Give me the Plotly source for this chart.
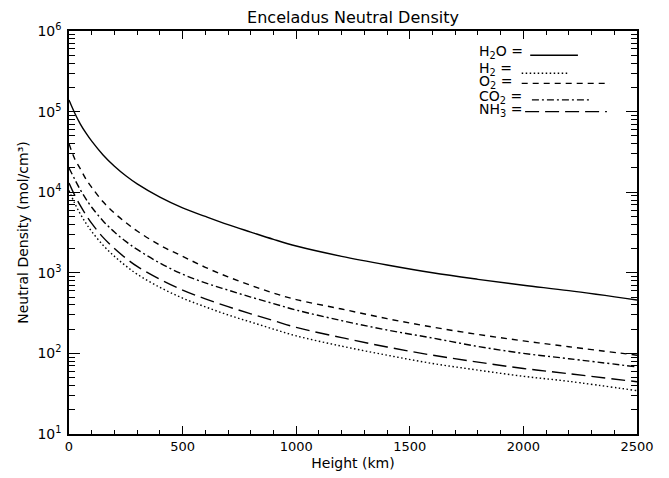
import plotly.graph_objects as go

# Heights (km)
height_km = [0, 25, 50, 75, 100, 150, 200, 250, 300, 400, 500, 600, 700, 800,
             900, 1000, 1200, 1400, 1600, 1800, 2000, 2200, 2500]

# Neutral densities (mol/cm^3)
h2o = [1.39e5, 9.6e4, 7.0e4, 5.4e4, 4.3e4, 2.9e4, 2.1e4, 1.6e4, 1.27e4, 8.7e3,
       6.4e3, 5.0e3, 3.95e3, 3.2e3, 2.6e3, 2.15e3, 1.6e3, 1.25e3, 1.0e3, 830,
       700, 600, 460]
h2 = [1.05e4, 7.3e3, 5.35e3, 4.1e3, 3.25e3, 2.2e3, 1.6e3, 1.22e3, 960, 660,
      485, 378, 300, 245, 200, 165, 123, 95, 75, 62, 52, 45, 34.5]
o2 = [4.0e4, 2.6e4, 1.95e4, 1.45e4, 1.15e4, 7.6e3, 5.5e3, 4.2e3, 3.3e3, 2.2e3,
      1.6e3, 1.17e3, 890, 700, 560, 465, 355, 270, 212, 172, 143, 121, 95]
co2 = [2.0e4, 1.45e4, 1.07e4, 8.2e3, 6.5e3, 4.4e3, 3.2e3, 2.45e3, 1.95e3, 1.32e3,
       960, 750, 610, 500, 415, 345, 255, 195, 155, 122, 100, 86, 68]
nh3 = [1.3e4, 9.2e3, 6.8e3, 5.2e3, 4.1e3, 2.75e3, 2.0e3, 1.52e3, 1.2e3, 830,
       610, 475, 380, 310, 255, 210, 157, 120, 95, 78, 65, 56, 44.5]

species_labels = ["H<sub>2</sub>O =", "H<sub>2</sub> =", "O<sub>2</sub> =",
                  "CO<sub>2</sub> =", "NH<sub>3</sub> ="]
series = [h2o, h2, o2, co2, nh3]
dashes = ["solid", "1.5px,2.5px", "6px,5px", "7px,3px,2px,3px", "14px,6px"]

x_ticks = [0, 500, 1000, 1500, 2000, 2500]
y_ticks = [1e1, 1e2, 1e3, 1e4, 1e5, 1e6]
y_tick_text = ["10<sup>1</sup>", "10<sup>2</sup>", "10<sup>3</sup>",
               "10<sup>4</sup>", "10<sup>5</sup>", "10<sup>6</sup>"]

FONT = "DejaVu Sans"

fig = go.Figure()
for vals, dash in zip(series, dashes):
    fig.add_trace(go.Scatter(
        x=height_km, y=vals, mode="lines", line_shape="spline",
        line=dict(color="black", width=1.4, dash=dash), showlegend=False))

# Legend: label text followed by a line sample
leg_text_y = [0.948, 0.905, 0.874, 0.837, 0.804]
leg_line = [(0.812, 0.896, 0.940), (0.797, 0.878, 0.895), (0.797, 0.952, 0.870),
            (0.815, 0.920, 0.829), (0.803, 0.947, 0.800)]
annotations = []
shapes = []
for lbl, ty, (x0, x1, ly), dash in zip(species_labels, leg_text_y, leg_line, dashes):
    annotations.append(dict(xref="paper", yref="paper", x=0.718, y=ty,
                            xanchor="left", yanchor="middle", text=lbl,
                            showarrow=False,
                            font=dict(family=FONT, size=14, color="black")))
    shapes.append(dict(type="line", xref="paper", yref="paper",
                       x0=x0, x1=x1, y0=ly, y1=ly,
                       line=dict(color="black", width=1.4, dash=dash)))

fig.update_layout(
    width=669, height=478,
    margin=dict(l=61, r=40, t=23, b=52),
    paper_bgcolor="white", plot_bgcolor="white",
    font=dict(family=FONT, size=13, color="black"),
    title=dict(text="Enceladus Neutral Density", x=0.5, xref="paper",
               y=1 - 9.5 / 478, yref="container", yanchor="middle",
               font=dict(family=FONT, size=16, color="black")),
    annotations=annotations, shapes=shapes,
)

fig.update_xaxes(
    range=[0, 2500], tickvals=x_ticks, ticktext=[str(v) for v in x_ticks],
    showline=True, linecolor="black", linewidth=1.5, mirror="ticks",
    ticks="inside", ticklen=8, tickwidth=1.2, tickcolor="black",
    minor=dict(ticks="inside", ticklen=4, tickwidth=1.2, dtick=100,
               tickcolor="black", showgrid=False),
    showgrid=False, zeroline=False,
    tickfont=dict(family=FONT, size=13),
    title=dict(text="Height (km)", font=dict(family=FONT, size=14), standoff=5),
)
fig.update_yaxes(
    type="log", range=[1, 6], tickvals=y_ticks, ticktext=y_tick_text,
    showline=True, linecolor="black", linewidth=1.5, mirror="ticks",
    ticks="inside", ticklen=11, tickwidth=1.2, tickcolor="black",
    minor=dict(ticks="inside", ticklen=6, tickwidth=1.2, dtick="D1",
               tickcolor="black", showgrid=False),
    showgrid=False, zeroline=False, ticklabelstandoff=3,
    tickfont=dict(family=FONT, size=14),
    title=dict(text="Neutral Density (mol/cm³)", font=dict(family=FONT, size=14),
               standoff=5),
)

fig.write_html("out.html")
